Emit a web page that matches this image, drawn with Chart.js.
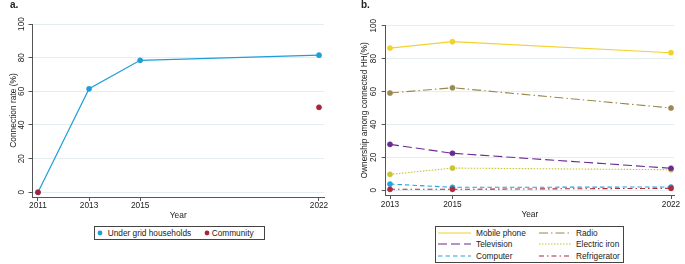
<!DOCTYPE html>
<html><head><meta charset="utf-8">
<script src="https://cdn.jsdelivr.net/npm/chart.js@4.4.0/dist/chart.umd.min.js"></script>
<style>
html,body{margin:0;padding:0;background:#fff;width:685px;height:264px;overflow:hidden;font-family:'Liberation Sans',Arial,sans-serif;color:#222}
#wrap{position:relative;width:685px;height:264px}
canvas{position:absolute;top:0}
.ptitle{position:absolute;font-weight:bold;font-size:10px;line-height:10px;top:0}
.legend{position:absolute;border:1px solid #444;box-sizing:border-box;background:#fff}
.item{position:absolute;font-size:8.3px;line-height:10px;white-space:nowrap}
.sw{position:absolute}
</style></head><body>
<div id="wrap">
<canvas id="ca" width="340" height="222" style="left:0"></canvas>
<canvas id="cb" width="345" height="222" style="left:340px"></canvas>
<div class="ptitle" style="left:10px">a.</div>
<div class="ptitle" style="left:361px">b.</div>
<div id="legA" class="legend" style="left:94px;top:226px;width:171px;height:14px"></div>
<div id="legB" class="legend" style="left:435px;top:226px;width:189px;height:37px"></div>
</div>
<script>
// ---- data: panel a ----
const yearsA = [2011, 2013, 2015, 2022];
const underGrid = [0, 61.5, 78.4, 81.5];
const communityYears = [2011, 2022];
const community = [0, 50.5];
const xTicksA = [2011, 2013, 2015, 2022];
const yTicks = [0, 20, 40, 60, 80, 100];
const labelsA = ['Under grid households', 'Community'];

// ---- data: panel b ----
const yearsB = [2013, 2015, 2022];
const mobilePhone = [86.4, 90.3, 83.6];
const radio = [59.1, 62.3, 50.0];
const television = [27.9, 22.5, 13.4];
const electricIron = [9.7, 13.5, 12.5];
const computer = [3.8, 1.8, 2.0];
const refrigerator = [0.6, 0.6, 1.2];
const xTicksB = [2013, 2015, 2022];
const labelsB = ['Mobile phone', 'Radio', 'Television', 'Electric iron', 'Computer', 'Refrigerator'];

// ---- styles ----
const axisColor = '#555555', gridColor = '#e4edf0', textColor = '#222222';
const colA = ['#1f9dd8', '#a6243a'];
const colB = ['#f2d22e', '#9a8850', '#6a2a92', '#c8c433', '#21a5dc', '#b02a3c'];
const dashB = [[], [9, 3, 1.5, 3], [9, 4], [1.5, 1.5], [4.5, 3], [5, 3, 1.5, 3]];
const orderB = [5, 4, 1, 3, 2, 0];
const seriesB = [mobilePhone, radio, television, electricIron, computer, refrigerator];

Chart.defaults.font.family = "'Liberation Sans', Arial, sans-serif";
Chart.defaults.color = textColor;

const pts = (xs, ys) => xs.map((x, i) => ({x: x, y: ys[i]}));

function makeScales(cfg) {
  return {
    x: {
      type: 'linear', min: cfg.xmin, max: cfg.xmax,
      afterBuildTicks: s => { s.ticks = cfg.xticks.map(v => ({value: v})); },
      afterFit: s => { s.height = cfg.xh; },
      grid: {drawOnChartArea: false, drawTicks: true, tickLength: 4, tickColor: axisColor, tickWidth: 1},
      border: {display: true, color: axisColor, width: 1},
      ticks: {padding: cfg.xpad, minRotation: 0, maxRotation: 0, autoSkip: false, callback: v => String(v), color: textColor, font: {size: 8.3}},
      title: {display: true, text: 'Year', color: textColor, font: {size: 8.4}, padding: {top: 0, bottom: cfg.xtp}}
    },
    y: {
      min: cfg.ymin, max: 100,
      afterBuildTicks: s => { s.ticks = yTicks.map(v => ({value: v})); },
      afterFit: s => { s.width = cfg.yw; },
      grid: {color: gridColor, lineWidth: 1, drawTicks: true, tickLength: 4, tickColor: axisColor, tickWidth: 1},
      border: {display: true, color: axisColor, width: 1},
      ticks: {minRotation: 90, maxRotation: 90, crossAlign: 'center', padding: cfg.ypad, color: textColor, font: {size: 8.3}, callback: v => String(v)},
      title: {display: true, text: cfg.ytitle, color: textColor, font: {size: 8.4}, padding: {top: cfg.ytp, bottom: 0}}
    }
  };
}

new Chart(document.getElementById('ca'), {
  type: 'line',
  data: {datasets: [
    {label: labelsA[0], data: pts(yearsA, underGrid), borderColor: colA[0], backgroundColor: colA[0],
     borderWidth: 1.2, pointRadius: 2.6, pointBorderWidth: 0.5, order: 1},
    {label: labelsA[1], data: pts(communityYears, community), showLine: false, borderColor: colA[1], backgroundColor: colA[1],
     pointRadius: 2.6, pointBorderWidth: 0.5, order: 0}
  ]},
  options: {
    responsive: false, animation: false, devicePixelRatio: 1,
    layout: {padding: {top: 24, left: 0, right: 16, bottom: 0}},
    plugins: {legend: {display: false}, tooltip: {enabled: false}},
    scales: makeScales({xmin: 2010.785, xmax: 2022.196, xticks: xTicksA, xh: 25, xpad: 0, xtp: 1.5,
                        ymin: -2.8, yw: 32.5, ypad: -0.3, ytp: 8.5, ytitle: 'Connection rate (%)'})
  }
});

new Chart(document.getElementById('cb'), {
  type: 'line',
  data: {datasets: seriesB.map((s, i) => ({
    label: labelsB[i], data: pts(yearsB, s), borderColor: colB[i], backgroundColor: colB[i],
    borderDash: dashB[i], borderWidth: 1.1, pointRadius: 2.6, pointBorderWidth: 0.5, order: orderB[i]
  }))},
  options: {
    responsive: false, animation: false, devicePixelRatio: 1,
    layout: {padding: {top: 25.7, left: 0, right: 11, bottom: 0}},
    plugins: {legend: {display: false}, tooltip: {enabled: false}},
    scales: makeScales({xmin: 2012.862, xmax: 2022.096, xticks: xTicksB, xh: 27, xpad: 1, xtp: 2.5,
                        ymin: -2.86, yw: 45.7, ypad: 1.5, ytp: 20, ytitle: 'Ownership among connected HH(%)'})
  }
});

// ---- HTML legends ----
function addText(parent, text, left, cy) {
  const d = document.createElement('div');
  d.className = 'item'; d.textContent = text;
  d.style.left = left + 'px'; d.style.top = (cy - 5) + 'px';
  parent.appendChild(d);
}
const legA = document.getElementById('legA');
const posA = [[4.5, 12.7], [111.7, 116.7]];
labelsA.forEach((lab, i) => {
  const s = document.createElementNS('http://www.w3.org/2000/svg', 'svg');
  s.setAttribute('width', 6); s.setAttribute('height', 6); s.setAttribute('class', 'sw');
  s.style.left = (posA[i][0] - 3) + 'px'; s.style.top = (6 - 3) + 'px';
  s.innerHTML = '<circle cx="3" cy="3" r="2.4" fill="' + colA[i] + '"/>';
  legA.appendChild(s);
  addText(legA, lab, posA[i][1], 6);
});
const legB = document.getElementById('legB');
const rowsY = [5.5, 17.2, 29];
labelsB.forEach((lab, i) => {
  const row = Math.floor(i / 2), col = i % 2;
  const lx = col === 0 ? 2 : 103, tx = col === 0 ? 40 : 140;
  const s = document.createElementNS('http://www.w3.org/2000/svg', 'svg');
  s.setAttribute('width', 33); s.setAttribute('height', 4); s.setAttribute('class', 'sw');
  s.style.left = lx + 'px'; s.style.top = (rowsY[row] - 2) + 'px';
  s.innerHTML = '<line x1="0" y1="2" x2="33" y2="2" stroke="' + colB[i] + '" stroke-width="1.1"' +
    (dashB[i].length ? ' stroke-dasharray="' + dashB[i].join(' ') + '"' : '') + '/>';
  legB.appendChild(s);
  addText(legB, lab, tx, rowsY[row]);
});
</script>
</body></html>
